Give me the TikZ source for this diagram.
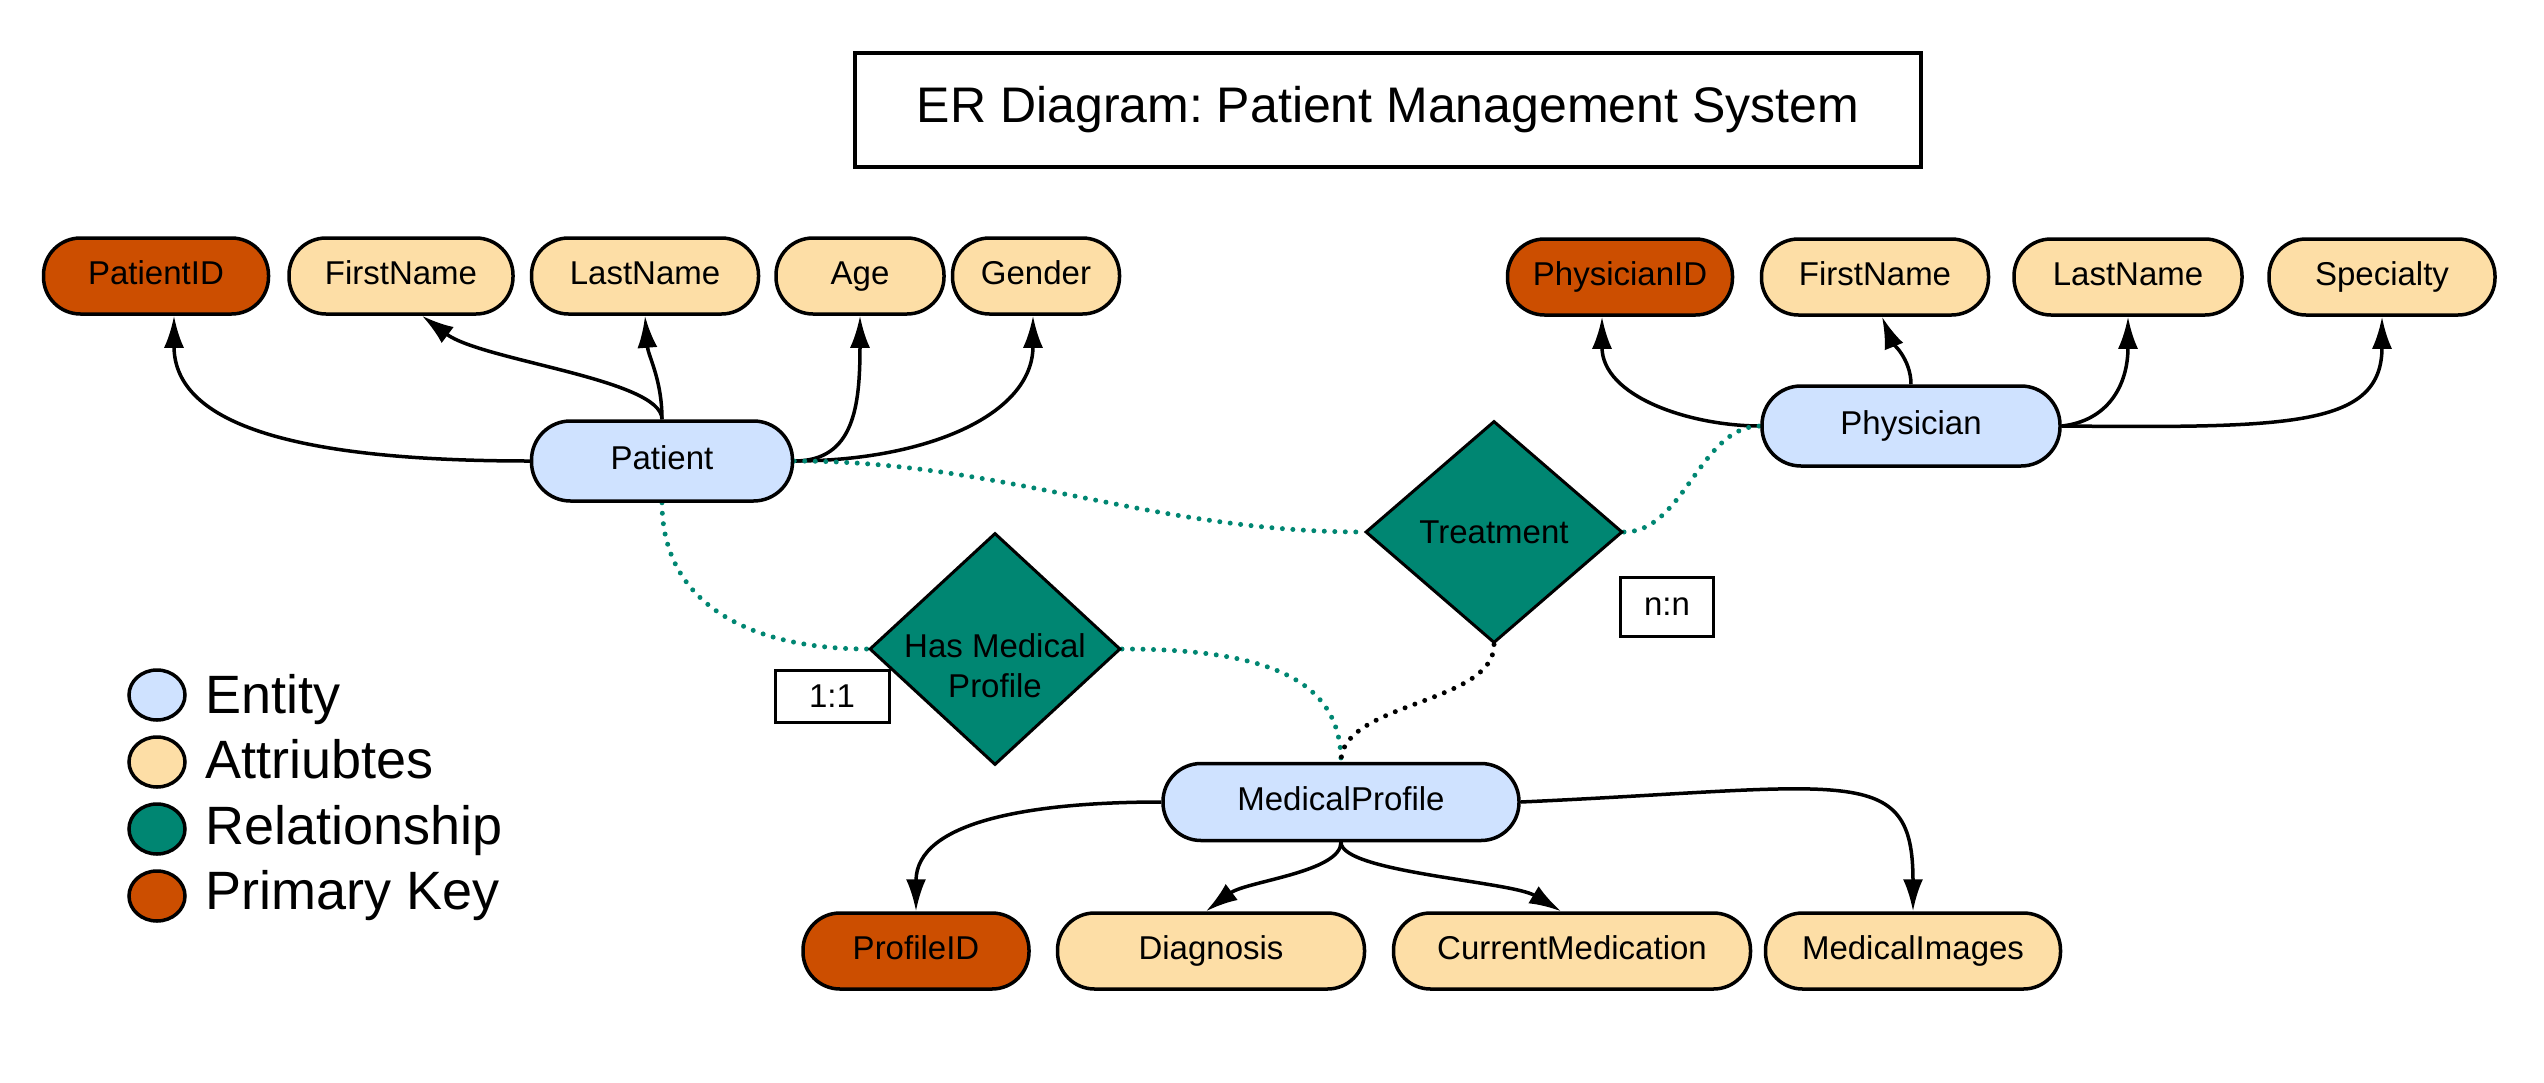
\documentclass[tikz,border=0pt]{standalone}
\usepackage{fontspec}
\setmainfont{Liberation Sans}
\usetikzlibrary{shapes.geometric,arrows.meta,backgrounds}
\definecolor{entfill}{HTML}{CFE2FF}
\definecolor{attrfill}{HTML}{FDDEA6}
\definecolor{pkfill}{HTML}{CC4E00}
\definecolor{relfill}{HTML}{008672}
\frenchspacing
\begin{document}
\begin{tikzpicture}[x=1pt,y=-1pt,
  base/.style={draw=black,line width=3.5pt,rounded corners=37pt,minimum height=76pt,font=\fontsize{33}{40}\selectfont,inner sep=4pt,text height=24pt,text depth=7pt},
  entity/.style={base,fill=entfill,minimum height=80pt,rounded corners=39pt},
  attr/.style={base,fill=attrfill},
  pk/.style={base,fill=pkfill},
  rel/.style={diamond,draw=black,line width=3pt,fill=relfill,inner sep=0pt,font=\fontsize{33}{40}\selectfont},
  card/.style={draw=black,line width=3pt,fill=white,font=\fontsize{33}{40}\selectfont,inner sep=0pt},
  conn/.style={line width=3.5pt,-{Latex[length=32pt,width=20pt]}},
  reldot/.style={line width=5pt,dash pattern=on 0pt off 10.5pt,line cap=round,draw=relfill},
  blkdot/.style={reldot,draw=black},
  legcirc/.style={ellipse,draw=black,line width=3.5pt,minimum width=56pt,minimum height=50pt,inner sep=0pt},
  legtext/.style={anchor=base west,font=\fontsize{54}{60}\selectfont,inner sep=0pt}
]
\useasboundingbox (0,0) rectangle (2544,1082);

% title
\node[draw=black,line width=3.5pt,minimum width=1066pt,minimum height=114pt,font=\fontsize{50}{60}\selectfont] (title) at (1388,110) {ER Diagram: Patient Management System};

% patient attributes
\node[pk,minimum width=225pt] (pid) at (156,276) {PatientID};
\node[attr,minimum width=224pt] (pfn) at (401,276) {FirstName};
\node[attr,minimum width=227pt] (pln) at (645,276) {LastName};
\node[attr,minimum width=168pt] (age) at (860,276) {Age};
\node[attr,minimum width=167pt] (gen) at (1036,276) {Gender};

% physician attributes
\node[pk,minimum width=225pt] (phid) at (1620,277) {PhysicianID};
\node[attr,minimum width=227pt] (phfn) at (1875,277) {FirstName};
\node[attr,minimum width=228pt] (phln) at (2128,277) {LastName};
\node[attr,minimum width=226pt] (spec) at (2382,277) {Specialty};

% entities
\node[entity,minimum width=261pt] (patient) at (662,461) {Patient};
\node[entity,minimum width=298pt] (physician) at (1911,426) {Physician};
\node[entity,minimum width=356pt,minimum height=77pt,rounded corners=38pt] (mp) at (1341,802) {MedicalProfile};

% medical profile attributes
\node[pk,minimum width=226pt] (prid) at (916,951) {ProfileID};
\node[attr,minimum width=307pt] (diag) at (1211,951) {Diagnosis};
\node[attr,minimum width=357pt] (curmed) at (1572,951) {CurrentMedication};
\node[attr,minimum width=295pt] (medimg) at (1913,951) {MedicalImages};

% relationships
\node[rel,minimum width=257pt,minimum height=222pt] (treat) at (1494,532) {Treatment};
\node[rel,minimum width=251pt,minimum height=232pt] (hmp) at (995,649) {\raisebox{-48pt}[0pt][0pt]{\begin{tabular}[b]{@{}c@{}}Has Medical\\Profile\end{tabular}}};

% cardinalities
\node[card,minimum width=93pt,minimum height=59pt] (nn) at (1667,607) {n:n};
\node[card,minimum width=114pt,minimum height=52pt] (oo) at (832,696) {1:1};

% legend
\node[legcirc,fill=entfill] (lg1) at (157,695) {};
\node[legcirc,fill=attrfill] (lg2) at (157,762) {};
\node[legcirc,fill=relfill] (lg3) at (157,829) {};
\node[legcirc,fill=pkfill] (lg4) at (157,896) {};
\node[legtext] (lt1) at (205,713) {Entity};
\node[legtext] (lt2) at (205,778) {Attriubtes};
\node[legtext] (lt3) at (205,844) {Relationship};
\node[legtext] (lt4) at (205,909) {Primary Key};

\begin{scope}[on background layer]
% patient attribute connectors
\draw[conn] (patient.west) .. controls +(-230,0) and +(0,110) .. ([xshift=18pt]pid.south);
\draw[conn] (patient.north) .. controls +(0,-40) and +(60,45) .. ([xshift=21pt]pfn.south);
\draw[conn] (patient.north) .. controls +(0,-40) and +(3,40) .. (pln.south);
\draw[conn] (patient.east) .. controls +(60,0) and +(0,90) .. (age.south);
\draw[conn] (patient.east) .. controls +(130,0) and +(0,100) .. ([xshift=-3pt]gen.south);

% physician attribute connectors
\draw[conn] (physician.west) .. controls +(-70,0) and +(0,80) .. ([xshift=-18pt]phid.south);
\draw[conn] (physician.north) .. controls +(0,-25) and +(10,25) .. ([xshift=7pt]phfn.south);
\draw[conn] (physician.east) .. controls +(45,-5) and +(0,70) .. (phln.south);
\draw[conn] (physician.east) .. controls +(230,2) and +(0,110) .. (spec.south);

% medical profile attribute connectors
\draw[conn] (mp.west) .. controls +(-130,0) and +(0,-90) .. (prid.north);
\draw[conn] (mp.south) .. controls +(0,30) and +(40,-30) .. ([xshift=-5pt]diag.north);
\draw[conn] (mp.south) .. controls +(0,30) and +(-50,-30) .. ([xshift=-11pt]curmed.north);
\draw[conn] (mp.east) .. controls +(330,-15) and +(0,-150) .. (medimg.north);

% relationship connectors
\draw[reldot] (patient.east) .. controls +(210,0) and +(-215,0) .. (treat.west);
\draw[reldot] (treat.east) .. controls +(60,0) and +(-60,0) .. (physician.west);
\draw[reldot] (patient.south) .. controls +(0,100) and +(-120,0) .. (hmp.west);
\draw[reldot] (hmp.east) .. controls +(150,0) and +(0,-80) .. (mp.north);
\draw[blkdot] (treat.south) .. controls +(0,60) and +(0,-60) .. (mp.north);
\end{scope}
\end{tikzpicture}
\end{document}
